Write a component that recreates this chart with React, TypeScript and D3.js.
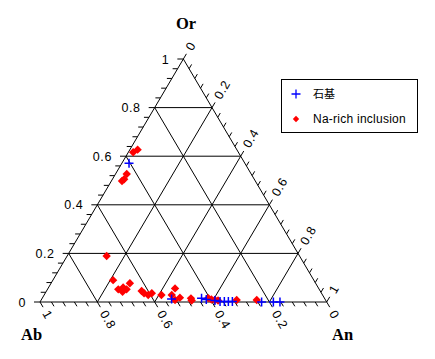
import * as d3 from "d3";

// ternary values: Ab = 1 - An - Or
const groundmassAn = [0.025, 0.453, 0.556, 0.575, 0.607, 0.627, 0.642, 0.656, 0.67, 0.773, 0.814, 0.837];
const groundmassOr = [0.571, 0.012, 0.015, 0.01, 0.006, 0.002, 0.002, 0.002, 0.002, 0, 0, 0];

const inclusionAn = [
  0.017, 0.027, 0.039, 0.041, 0.037, 0.138, 0.21, 0.247, 0.267, 0.276, 0.275, 0.26, 0.332, 0.345,
  0.363, 0.372, 0.409, 0.445, 0.443, 0.467, 0.479, 0.519, 0.526, 0.579, 0.593, 0.606, 0.618, 0.682,
  0.752,
];
const inclusionOr = [
  0.616, 0.627, 0.527, 0.505, 0.498, 0.189, 0.09, 0.052, 0.042, 0.052, 0.077, 0.06, 0.045, 0.036,
  0.029, 0.036, 0.029, 0.029, 0.056, 0.008, 0.018, 0.015, 0.006, 0.016, 0.01, 0.008, 0.006, 0.008,
  0.008,
];

const majorTicks = [0, 0.2, 0.4, 0.6, 0.8, 1];
const tickLabels = ["0", "0.2", "0.4", "0.6", "0.8", "1"];
const minorTicks = d3.range(0, 26).map((i) => i * 0.04);
const gridValues = [0.2, 0.4, 0.6, 0.8];

const legendLabels = ["石基", "Na-rich inclusion"];

const width = 435;
const height = 359;

// horizontal position from (An + Or/2), vertical from Or
const x = d3.scaleLinear().domain([0, 1]).range([40, 326.7]);
const y = d3.scaleLinear().domain([0, 1]).range([302, 59]);

const pt = (an: number, or: number): [number, number] => [x(an + or / 2), y(or)];

// unit directions for ticks
const dx = x(0.5) - x(0);
const dy = y(0) - y(1);
const len = Math.sqrt(dx * dx + dy * dy);
const downRight: [number, number] = [dx / len, dy / len];
const upRight: [number, number] = [dx / len, -dy / len];

const plusPath = "M-4.5,0H4.5M0,-4.5V4.5";
const diamondPath = "M0,-4.2L4.2,0L0,4.2L-4.2,0Z";

const labelFont = "Arial, 'Liberation Sans', sans-serif";
const titleFont = "'Times New Roman', 'Liberation Serif', serif";

export default function App() {
  const line = d3.line();
  const tri = line([pt(0, 0), pt(1, 0), pt(0, 1)]) + "Z";

  const grid: string[] = [];
  gridValues.forEach((v) => {
    // constant Or
    grid.push(line([pt(0, v), pt(1 - v, v)])!);
    // constant An
    grid.push(line([pt(v, 0), pt(v, 1 - v)])!);
    // constant Ab
    grid.push(line([pt(1 - v, 0), pt(0, 1 - v)])!);
  });

  const ticks: string[] = [];
  minorTicks.forEach((v) => {
    const major = majorTicks.some((m) => Math.abs(m - v) < 1e-6);
    const tl = major ? 6 : 5;
    // left axis (Or)
    const [lx, ly] = pt(0, v);
    ticks.push(`M${lx},${ly}H${lx - tl}`);
    // bottom axis (Ab): Ab = v -> An = 1 - v
    const [bx, by] = pt(1 - v, 0);
    ticks.push(`M${bx},${by}L${bx + downRight[0] * tl},${by + downRight[1] * tl}`);
    // right axis (An)
    const [rx, ry] = pt(v, 1 - v);
    ticks.push(`M${rx},${ry}L${rx + upRight[0] * tl},${ry + upRight[1] * tl}`);
  });

  return (
    <svg
      width={width}
      height={height}
      style={{ position: "absolute", left: 0, top: 0, background: "#fff" }}
    >
      <g fill="none" stroke="#000" strokeWidth={1}>
        {grid.map((d, i) => (
          <path key={i} d={d} />
        ))}
        <path d={tri} />
        {ticks.map((d, i) => (
          <path key={"t" + i} d={d} />
        ))}
      </g>

      {/* left labels (Or) */}
      <g fontFamily={labelFont} fontSize={12.5} fill="#000">
        {majorTicks.map((v, i) => {
          const [lx, ly] = pt(0, v);
          return (
            <text key={"l" + i} x={lx - 14} y={ly + 4.5} textAnchor="end" letterSpacing={0.6}>
              {tickLabels[i]}
            </text>
          );
        })}
        {majorTicks.map((v, i) => {
          const [bx, by] = pt(1 - v, 0);
          const tx = bx + downRight[0] * 11;
          const ty = by + downRight[1] * 11;
          return (
            <text
              key={"b" + i}
              x={tx}
              y={ty}
              dy={4}
              textAnchor="start"
              letterSpacing={0.6}
              transform={`rotate(60,${tx},${ty})`}
            >
              {tickLabels[i]}
            </text>
          );
        })}
        {majorTicks.map((v, i) => {
          const [rx, ry] = pt(v, 1 - v);
          const tx = rx + upRight[0] * 11;
          const ty = ry + upRight[1] * 11;
          return (
            <text
              key={"r" + i}
              x={tx}
              y={ty}
              dy={4}
              textAnchor="start"
              letterSpacing={0.6}
              transform={`rotate(-60,${tx},${ty})`}
            >
              {tickLabels[i]}
            </text>
          );
        })}
      </g>

      {/* axis titles */}
      <g fontFamily={titleFont} fontWeight="bold" fontSize={16.5} fill="#000">
        <text x={186} y={28.5} textAnchor="middle">
          Or
        </text>
        <text x={21} y={340}>
          Ab
        </text>
        <text x={332} y={340}>
          An
        </text>
      </g>

      {/* data */}
      <g fill="#ff0000">
        {inclusionAn.map((an, i) => {
          const [px, py] = pt(an, inclusionOr[i]);
          return <path key={"r" + i} d={diamondPath} transform={`translate(${px},${py})`} />;
        })}
      </g>
      <g fill="none" stroke="#0000ff" strokeWidth={1.5}>
        {groundmassAn.map((an, i) => {
          const [px, py] = pt(an, groundmassOr[i]);
          return <path key={"b" + i} d={plusPath} transform={`translate(${px},${py})`} />;
        })}
      </g>

      {/* legend */}
      <g>
        <rect x={281.5} y={79.5} width={136} height={53} fill="#fff" stroke="#000" strokeWidth={1} />
        <path d={plusPath} transform="translate(296,94)" fill="none" stroke="#0000ff" strokeWidth={1.3} />
        <path d="M0,-3.2L3.2,0L0,3.2L-3.2,0Z" transform="translate(296,119)" fill="#ff0000" />
        <text
          x={313}
          y={98}
          fontFamily="'Noto Sans CJK SC', 'Noto Sans CJK JP', sans-serif"
          fontSize={11}
          fill="#000"
        >
          {legendLabels[0]}
        </text>
        <text x={313} y={123} fontFamily={labelFont} fontSize={12} letterSpacing={0.25} fill="#000">
          {legendLabels[1]}
        </text>
      </g>
    </svg>
  );
}
